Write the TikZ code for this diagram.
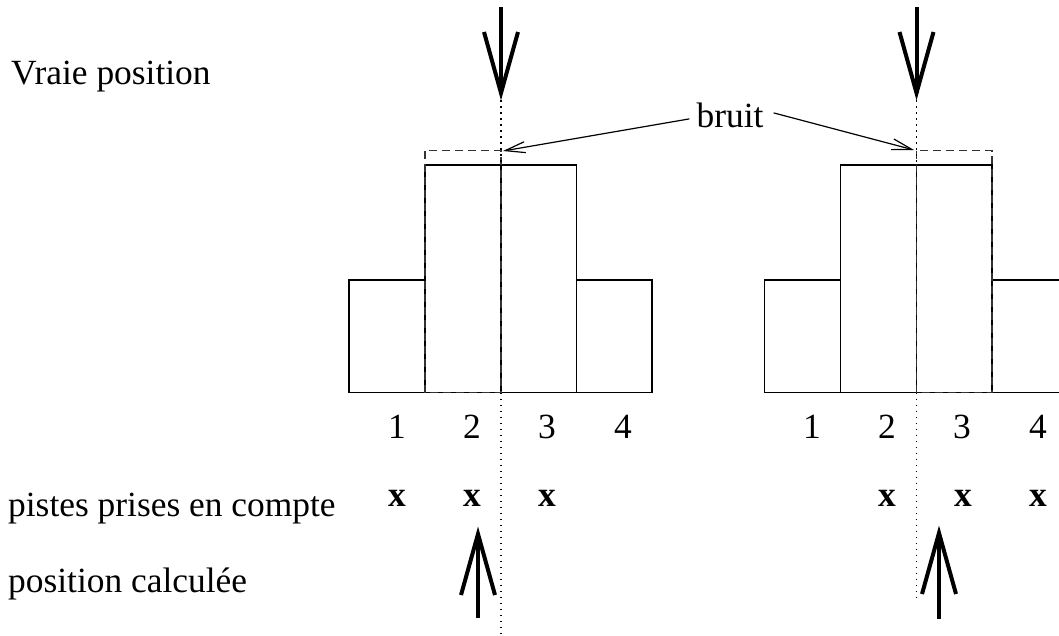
\documentclass[tikz,border=0pt]{standalone}
\usepackage{fontspec}
\setmainfont{Liberation Serif}
\usetikzlibrary{arrows.meta}
\begin{document}
\begin{tikzpicture}[x=1pt,y=-1pt,
  bar/.style={draw=black,line width=1.2pt},
  noisebox/.style={draw=black!80,line width=1.2pt,dash pattern=on 8pt off 5pt},
  axisdot/.style={line width=1.2pt,dash pattern=on 1.5pt off 4.5pt},
  bigarrow/.style={line width=4pt,line join=miter,line cap=butt},
  leader/.style={line width=1.2pt,-{Straight Barb[length=20pt,width=11pt,line width=1.2pt]}},
  lbl/.style={font=\fontsize{35.4}{40}\selectfont,inner sep=0pt,anchor=base},
  cross/.style={font=\fontsize{35.4}{40}\selectfont\bfseries,inner sep=0pt,anchor=base}
]
\useasboundingbox (0,0) rectangle (1059,635);
\clip (0,0) rectangle (1059,635);

% left texts
\node[lbl,anchor=base west] (vraie) at (11,84) {Vraie position};
\node[lbl,anchor=base west] (pistes) at (8,516) {pistes prises en compte};
\node[lbl,anchor=base west] (calc) at (8,592) {position calculée};
\node[lbl] (bruit) at (730,127) {bruit};

% ---------- left histogram ----------
\draw[bar] (349,280) rectangle (425,392.5);
\draw[bar] (425,165) rectangle (501,392.5);
\draw[bar] (501,165) rectangle (576.5,392.5);
\draw[bar] (576.5,280) rectangle (652,392.5);
\draw[noisebox] (425,150.5) rectangle (501,392.5);
\draw[axisdot] (501,100) -- (501,165);
\draw[axisdot] (501,392.5) -- (501,635);

\coordinate (tipTL) at (501,93);
\draw[bigarrow] (501,7) -- (tipTL);
\draw[bigarrow] (484,32) -- (tipTL) -- (518,32);

\coordinate (tipBL) at (478,534);
\draw[bigarrow] (478,618) -- (tipBL);
\draw[bigarrow] (461,595) -- (tipBL) -- (495,595);

\foreach \n/\x in {1/397,2/472,3/547,4/623}
  \node[lbl] (numL\n) at (\x,438) {\n};
\foreach \n/\x in {1/397,2/472,3/547}
  \node[cross] (xL\n) at (\x,506) {x};

% ---------- right histogram ----------
\begin{scope}[xshift=415.5pt]
\draw[bar] (349,280) rectangle (425,392.5);
\draw[bar] (425,165) rectangle (501,392.5);
\draw[bar] (501,165) rectangle (576.5,392.5);
\draw[bar] (576.5,280) rectangle (652,392.5);
\draw[noisebox] (501,150.5) rectangle (576.5,392.5);
\draw[axisdot] (501,100) -- (501,165);
\draw[axisdot] (501,392.5) -- (501,597);
\end{scope}

\coordinate (tipTR) at (916.5,93);
\draw[bigarrow] (916.5,7) -- (tipTR);
\draw[bigarrow] (899.5,32) -- (tipTR) -- (933.5,32);

\coordinate (tipBR) at (939,533);
\draw[bigarrow] (939,619) -- (tipBR);
\draw[bigarrow] (922,594) -- (tipBR) -- (956,594);

\foreach \n/\x in {1/812,2/887,3/962,4/1038}
  \node[lbl] (numR\n) at (\x,438) {\n};
\foreach \n/\x in {2/887,3/963,4/1038}
  \node[cross] (xR\n) at (\x,506) {x};

% ---------- bruit leaders ----------
\coordinate (nzL) at (503,151);
\coordinate (nzR) at (914,150);
\draw[leader] ([xshift=-7pt,yshift=-4pt]bruit.west) -- (nzL);
\draw[leader] ([xshift=10pt,yshift=2pt]bruit.east) -- (nzR);
\end{tikzpicture}
\end{document}
